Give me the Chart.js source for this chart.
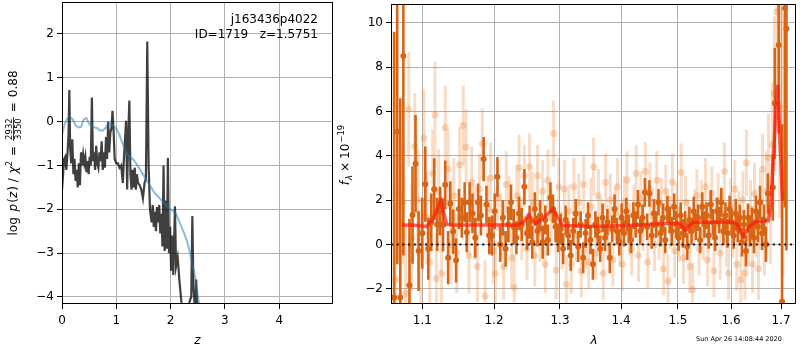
<!DOCTYPE html>
<html lang="en">
<head>
  <meta charset="UTF-8" />
  <title>j163436p4022 redshift fit</title>
  <script src="https://cdn.jsdelivr.net/npm/chart.js"></script>
  <style>
    body { margin: 0; background: #fff; }
    #wrap { position: relative; width: 800px; height: 350px; }
    canvas { position: absolute; top: 0; }
    #pz { left: 0; }
    #spec { left: 335px; }
  </style>
</head>
<body>
<div id="wrap">
  <canvas id="pz" width="340" height="350"></canvas>
  <canvas id="spec" width="465" height="350"></canvas>
</div>

<script>
  // ---- left panel: log p(z) and chi2 curve ----
  const zGrid = [
    0.00,0.02,0.04,0.06,0.08,0.10,0.12,0.135,0.15,0.17,
    0.19,0.21,0.23,0.25,0.27,0.29,0.31,0.33,0.35,0.37,
    0.39,0.41,0.43,0.45,0.47,0.49,0.51,0.53,0.55,0.57,
    0.59,0.61,0.63,0.65,0.67,0.69,0.71,0.73,0.75,0.77,
    0.79,0.81,0.83,0.85,0.87,0.89,0.91,0.93,0.95,0.97,
    1.00,1.03,1.06,1.09,1.12,1.14,1.16,1.18,1.20,1.22,
    1.24,1.26,1.28,1.30,1.32,1.34,1.36,1.38,1.40,1.43,
    1.46,1.49,1.52,1.545,1.57,1.595,1.62,1.65,1.67,1.69,
    1.71,1.73,1.75,1.77,1.79,1.81,1.83,1.85,1.87,1.89,
    1.91,1.93,1.95,1.97,1.99,2.01,2.03,2.05,2.08,2.10,
    2.13,2.16,2.19,2.22,2.30,2.35,2.38,2.40,2.42,2.45,
    2.47,2.50
  ];
  const logPz = [
    -1.57,-1.20,-0.85,-0.80,-1.10,-0.75,-0.30,0.72,-0.60,-0.95,
    -0.40,-1.20,-0.85,-1.35,-1.10,-1.50,-0.95,-1.45,-0.70,-1.00,
    -0.75,-0.95,-0.80,-1.15,-0.90,-1.20,-0.80,-1.00,0.55,-0.90,
    -0.70,-1.10,-0.55,-0.95,-1.05,-0.70,-0.90,-0.45,-1.10,-0.70,
    -1.05,-0.35,-0.85,0.00,-0.70,-0.25,-0.15,0.25,-0.20,-0.85,
    -0.95,-0.95,-1.05,-1.00,-1.40,-0.85,-0.40,0.02,-1.55,-0.30,
    0.48,-1.20,-1.55,-1.10,-1.50,-1.05,-1.55,-1.20,-1.40,-1.45,
    -1.55,-1.75,-1.40,-1.30,1.83,-1.00,-2.00,-2.30,-1.90,-2.40,
    -2.05,-2.50,-1.95,-2.30,-1.90,-2.55,-2.10,-2.85,-1.00,-2.95,
    -1.80,-2.90,-0.83,-3.00,-2.40,-3.40,-2.60,-3.50,-1.93,-3.30,
    -3.10,-3.60,-4.00,-4.40,-4.60,-4.10,-4.00,-2.15,-3.80,-4.30,
    -3.60,-4.50
  ];
  const zChi = [
    0.00,0.05,0.10,0.15,0.20,0.25,0.30,0.35,0.40,0.45,
    0.50,0.55,0.60,0.65,0.70,0.75,0.80,0.85,0.90,0.95,
    1.00,1.05,1.10,1.15,1.20,1.25,1.30,1.35,1.40,1.45,
    1.50,1.55,1.60,1.65,1.70,1.75,1.80,1.85,1.90,1.95,
    2.00,2.05,2.10,2.15,2.20,2.25,2.30,2.35,2.40,2.45,
    2.50,2.55
  ];
  const chiCurve = [
    -0.30,-0.05,0.08,0.10,0.05,-0.08,-0.13,-0.12,0.05,0.08,
    -0.05,-0.10,-0.13,-0.15,-0.20,-0.20,-0.15,-0.05,-0.05,-0.10,
    -0.16,-0.28,-0.45,-0.60,-0.75,-0.80,-0.85,-0.92,-1.02,-1.12,
    -1.22,-1.32,-1.42,-1.52,-1.62,-1.68,-1.75,-1.82,-1.88,-1.95,
    -2.00,-2.05,-2.10,-2.25,-2.40,-2.55,-2.72,-2.95,-3.25,-3.55,
    -3.95,-4.35
  ];
  const zTicks = [0, 1, 2, 3, 4];
  const pzTicks = [-4, -3, -2, -1, 0, 1, 2];

  // ---- right panel: spectrum ----
  const darkWave = [
    1.063,1.067,1.071,1.075,1.083,1.087,1.091,1.095,1.100,1.104,
    1.108,1.112,1.116,1.120,1.124,1.128,1.131,1.135,1.138,1.142,
    1.146,1.150,1.154,1.158,1.161,1.165,1.169,1.173,1.177,1.181,
    1.185,1.189,1.193,1.197,1.201,1.205,1.209,1.213,1.217,1.221,
    1.225,1.229,1.233,1.237,1.241,1.245,1.249,1.253,1.257,1.261,
    1.265,1.269,1.273,1.277,1.281,1.285,1.289,1.293,1.297,1.301,
    1.305,1.309,1.313,1.317,1.321,1.325,1.329,1.333,1.337,1.341,
    1.345,1.349,1.353,1.357,1.361,1.365,1.369,1.373,1.377,1.381,
    1.385,1.389,1.393,1.397,1.401,1.405,1.409,1.413,1.417,1.421,
    1.425,1.429,1.433,1.437,1.441,1.445,1.449,1.453,1.457,1.461,
    1.465,1.469,1.473,1.477,1.481,1.485,1.489,1.493,1.497,1.501,
    1.505,1.509,1.513,1.517,1.521,1.525,1.529,1.533,1.537,1.541,
    1.545,1.549,1.553,1.557,1.561,1.565,1.569,1.573,1.577,1.581,
    1.585,1.589,1.593,1.597,1.601,1.605,1.609,1.613,1.617,1.621,
    1.625,1.629,1.633,1.637,1.641,1.645,1.649,1.653,1.657,1.661,
    1.665,1.669,1.673,1.683,1.687,1.695,1.702,1.708,1.711
  ];
  const darkFlux = [
    -2.4,5.1,-2.4,8.5,-1.84,1.33,3.64,-0.3,0.5,2.72,
    -0.2,1.0,2.49,0.9,1.5,0.88,2.69,-0.6,1.85,0.58,
    -0.72,1.6,1.2,1.9,0.55,1.9,1.4,0.3,1.9,1.3,
    3.85,1.8,0.4,0.4,1.5,3.05,0.0,1.2,-0.2,0.9,
    1.9,0.8,0.3,1.4,0.9,2.6,0.5,1.0,0.1,1.6,
    0.6,1.3,0.1,1.1,0.2,2.1,1.6,0.8,0.3,0.7,
    -0.2,1.1,0.4,-0.5,0.6,1.4,-0.1,0.9,-0.6,0.5,
    1.3,0.2,-0.9,0.9,0.6,-0.2,1.2,0.3,1.0,-0.6,
    0.7,1.6,0.6,0.1,1.2,0.5,1.5,0.7,0.2,1.3,
    0.9,1.8,0.6,1.2,2.35,0.8,2.3,0.4,1.4,0.9,
    1.9,0.5,1.2,0.2,1.6,1.1,0.6,1.7,0.9,0.3,
    1.3,0.5,0.9,-0.1,1.1,0.6,1.5,0.8,1.2,0.2,
    1.7,0.9,1.3,0.4,1.8,1.0,0.3,1.5,1.1,1.9,
    0.6,1.3,0.5,1.6,1.0,0.4,1.4,0.7,1.2,0.1,
    0.9,-0.3,1.2,0.6,1.0,0.3,1.5,0.8,1.9,0.5,
    1.1,0.0,2.3,2.57,6.37,9.0,-2.58,10.66,9.73
  ];
  const darkErr = [
    12,6,9,9,3,2.2,2.2,1.8,1.6,1.7,
    1.4,1.3,1.4,1.2,1.1,1.2,1.1,1.2,1.0,1.0,
    1.0,0.9,0.9,0.9,0.9,0.9,0.9,0.9,0.85,0.9,
    1.0,0.85,0.85,0.9,0.8,0.9,0.8,0.8,0.8,0.8,
    0.8,0.8,0.75,0.75,0.75,0.8,0.75,0.75,0.75,0.75,
    0.7,0.7,0.75,0.65,0.7,0.7,0.65,0.7,0.65,0.7,
    0.7,0.65,0.65,0.7,0.6,0.65,0.7,0.6,0.7,0.65,
    0.6,0.65,0.7,0.6,0.65,0.6,0.65,0.6,0.6,0.7,
    0.6,0.65,0.6,0.6,0.65,0.6,0.6,0.65,0.6,0.6,
    0.6,0.65,0.6,0.6,0.65,0.6,0.6,0.6,0.65,0.6,
    0.6,0.6,0.65,0.6,0.6,0.6,0.65,0.6,0.6,0.6,
    0.6,0.65,0.6,0.6,0.6,0.6,0.65,0.6,0.6,0.6,
    0.65,0.6,0.6,0.6,0.65,0.6,0.6,0.6,0.6,0.65,
    0.6,0.6,0.65,0.6,0.6,0.6,0.65,0.6,0.6,0.65,
    0.65,0.7,0.65,0.7,0.65,0.7,0.7,0.7,0.75,0.75,
    0.7,0.8,0.9,1.5,2.5,4.0,8.0,9.0,10.0
  ];
  const lightWave = [
    1.065,1.069,1.074,1.078,1.082,1.086,1.090,1.094,1.098,1.102,
    1.106,1.110,1.114,1.117,1.119,1.122,1.126,1.131,1.135,1.139,
    1.143,1.147,1.151,1.156,1.160,1.164,1.168,1.172,1.176,1.179,
    1.183,1.187,1.191,1.195,1.199,1.202,1.205,1.210,1.214,1.218,
    1.222,1.226,1.230,1.234,1.237,1.241,1.245,1.249,1.253,1.257,
    1.261,1.265,1.269,1.273,1.277,1.281,1.286,1.290,1.294,1.298,
    1.303,1.307,1.310,1.314,1.318,1.322,1.326,1.330,1.334,1.338,
    1.342,1.346,1.350,1.354,1.358,1.362,1.366,1.370,1.374,1.378,
    1.382,1.386,1.390,1.394,1.398,1.402,1.406,1.410,1.414,1.418,
    1.422,1.426,1.430,1.434,1.438,1.442,1.446,1.450,1.454,1.458,
    1.462,1.466,1.470,1.474,1.478,1.482,1.486,1.490,1.494,1.498,
    1.502,1.506,1.510,1.514,1.518,1.522,1.527,1.531,1.535,1.539,
    1.543,1.547,1.551,1.555,1.559,1.563,1.567,1.571,1.575,1.579,
    1.583,1.587,1.591,1.595,1.599,1.603,1.607,1.611,1.615,1.619,
    1.623,1.627,1.630,1.634,1.638,1.642,1.646,1.650,1.654,1.658,
    1.662,1.666,1.670,1.674,1.678,1.682,1.686,1.691,1.697,1.704
  ];
  const lightFlux = [
    -1.6,2.3,1.9,-2.2,6.1,0.3,4.43,2.0,-0.6,4.8,
    1.2,-0.8,3.2,5.85,-1.54,2.4,-1.3,5.28,3.4,0.0,
    2.2,-0.4,3.6,5.37,4.4,-0.5,2.8,1.0,-1.0,2.5,
    4.54,-2.33,1.6,3.0,-0.3,-1.31,2.1,0.8,-1.0,2.7,
    1.6,-0.6,-1.94,2.2,3.46,0.7,3.1,-0.2,3.5,1.9,
    -0.5,3.1,0.5,2.4,-0.9,2.9,1.2,5.0,-1.17,2.6,
    0.2,2.5,-1.8,1.5,-0.9,2.6,0.4,1.9,-1.2,2.7,
    0.1,-0.8,1.7,3.5,-0.4,2.2,0.9,-1.3,2.8,0.6,
    2.0,-0.7,1.4,2.6,0.2,-0.9,1.9,2.9,0.7,-0.2,
    1.5,3.2,-0.5,2.1,0.9,3.3,-0.8,2.5,1.3,0.0,
    2.9,0.5,1.8,-1.1,2.4,-1.66,1.0,2.8,-0.3,1.6,
    0.4,3.25,-0.6,1.9,0.8,-1.0,-2.03,1.3,2.2,-0.2,
    1.7,0.5,2.6,-0.7,1.1,2.3,-1.2,0.9,2.0,-0.4,
    1.4,3.3,0.2,-1.3,1.8,0.6,2.5,-0.9,1.2,-1.6,
    2.0,-1.3,3.69,0.3,1.6,-0.9,2.3,0.7,-1.1,1.9,
    3.39,0.2,2.4,3.91,1.4,4.5,6.8,10.5,6.2,4.5
  ];
  const lightErr = [
    3.5,3.0,2.8,3.0,2.6,2.4,2.4,2.3,2.2,2.2,
    2.1,2.0,2.0,2.4,1.9,1.9,1.8,1.9,1.8,1.8,
    1.7,1.8,1.7,1.8,1.7,1.7,1.6,1.7,1.6,1.6,
    1.6,1.6,1.5,1.6,1.5,1.5,1.5,1.5,1.5,1.5,
    1.5,1.4,1.5,1.4,1.5,1.4,1.4,1.4,1.5,1.4,
    1.4,1.4,1.3,1.4,1.3,1.4,1.3,1.5,1.3,1.3,
    1.3,1.3,1.3,1.2,1.3,1.3,1.2,1.3,1.2,1.3,
    1.2,1.2,1.3,1.3,1.2,1.2,1.2,1.2,1.3,1.2,
    1.2,1.2,1.2,1.3,1.2,1.2,1.2,1.3,1.2,1.2,
    1.2,1.3,1.2,1.2,1.2,1.3,1.2,1.2,1.2,1.2,
    1.3,1.2,1.2,1.2,1.2,1.2,1.2,1.3,1.2,1.2,
    1.2,1.3,1.2,1.2,1.2,1.2,1.2,1.2,1.2,1.2,
    1.2,1.2,1.3,1.2,1.2,1.2,1.2,1.2,1.2,1.2,
    1.2,1.3,1.2,1.2,1.2,1.2,1.3,1.2,1.2,1.2,
    1.3,1.2,1.5,1.3,1.3,1.3,1.4,1.3,1.4,1.4,
    1.6,1.6,1.8,2.0,2.3,2.8,3.5,4.0,5.0,6.0
  ];
  const modelWave = [
    1.073,1.090,1.106,1.115,1.125,1.133,1.140,1.180,1.235,1.245,
    1.251,1.262,1.270,1.280,1.289,1.297,1.304,1.357,1.420,1.470,
    1.500,1.507,1.514,1.521,1.528,1.560,1.603,1.612,1.618,1.624,
    1.634,1.649,1.674,1.679,1.683,1.688,1.693,1.698,1.703
  ];
  const modelFlux = [
    0.88,0.86,0.81,1.2,1.97,0.9,0.88,0.87,0.88,1.05,
    1.33,0.95,1.1,1.35,1.6,1.2,0.85,0.81,0.86,0.93,
    0.97,0.85,0.63,0.85,1.0,1.0,1.0,0.9,0.55,0.36,
    0.78,1.03,1.07,1.8,3.46,5.5,7.2,4.5,1.97
  ];
  const waveTicks = [1.1, 1.2, 1.3, 1.4, 1.5, 1.6, 1.7];
  const fluxTicks = [-2, 0, 2, 4, 6, 8, 10];

  const FONT = 'DejaVu Sans';
  const minus = v => String(v).replace('-', '\u2212');

  function pts(xs, ys) { return xs.map((x, i) => ({ x: x, y: ys[i] })); }
  function errSegs(xs, ys, es) {
    const out = [];
    xs.forEach((x, i) => { out.push({ x: x, y: ys[i] - es[i] }, { x: x, y: ys[i] + es[i] }, { x: x, y: null }); });
    return out;
  }

  function axis(extra, ticks, fmt, isY, size) {
    return Object.assign({
      afterBuildTicks: s => { s.ticks = ticks.map(v => ({ value: v })); },
      afterFit: s => {
        if (isY) { s.width = size; s.paddingTop = 0; s.paddingBottom = 0; }
        else { s.height = size; s.paddingLeft = 0; s.paddingRight = 0; }
      },
      grid: { color: '#b0b0b0', lineWidth: 1, tickColor: '#000', tickLength: 5, tickWidth: 1 },
      border: { display: false },
      ticks: { color: '#000', font: { family: FONT, size: 12 }, padding: isY ? 3 : 5, maxRotation: 0, autoSkip: false, callback: fmt }
    }, extra);
  }

  // spines on all four sides, like matplotlib
  const frame = {
    id: 'frame',
    afterDraw(chart) {
      const a = chart.chartArea, c = chart.ctx;
      c.save(); c.strokeStyle = '#000'; c.lineWidth = 1;
      c.strokeRect(Math.round(a.left) + 0.5, Math.round(a.top) + 0.5, Math.round(a.right - a.left) - 1, Math.round(a.bottom - a.top) - 1);
      c.restore();
    }
  };

  // draws a run of text pieces, optionally rotated, centred on (x, y)
  function rich(c, parts, x, y, rot) {
    c.save();
    c.translate(x, y);
    if (rot) c.rotate(-Math.PI / 2);
    c.fillStyle = '#000'; c.textBaseline = 'alphabetic';
    let total = 0;
    parts.forEach(p => {
      c.font = p.font;
      p.w = p.frac ? Math.max(c.measureText(p.frac[0]).width, c.measureText(p.frac[1]).width) + 2 : c.measureText(p.t).width;
      total += p.w + (p.gap || 0);
    });
    let cx = -total / 2;
    parts.forEach(p => {
      c.font = p.font;
      if (p.frac) {
        c.textAlign = 'center';
        c.fillText(p.frac[0], cx + p.w / 2, -1);
        c.fillText(p.frac[1], cx + p.w / 2, 8);
        c.fillRect(cx, 0, p.w, 0.8);
        c.textAlign = 'left';
      } else {
        c.textAlign = 'left';
        c.fillText(p.t, cx, 4 + (p.dy || 0));
      }
      cx += p.w + (p.gap || 0);
    });
    c.restore();
  }

  const pzText = {
    id: 'pzText',
    afterDraw(chart) {
      const c = chart.ctx;
      const n = '12px ' + FONT, it = 'italic 12px ' + FONT, sm = '8.5px ' + FONT;
      rich(c, [
        { t: 'log ', font: n, gap: 2 }, { t: 'p', font: it, gap: 1 }, { t: '(', font: n }, { t: 'z', font: it, gap: 1 },
        { t: ') / ', font: n, gap: 1 }, { t: '\u03c7', font: it }, { t: '2', font: sm, dy: -5, gap: 5 },
        { t: '=', font: n, gap: 5 }, { frac: ['2932', '3350'], font: sm, gap: 5 }, { t: '=', font: n, gap: 5 }, { t: '0.88', font: n }
      ], 13, 153, true);
      rich(c, [{ t: 'z', font: it }], 197.5, 340, false);
      c.save();
      c.font = '12px ' + FONT; c.fillStyle = '#000'; c.textAlign = 'right'; c.textBaseline = 'middle';
      c.fillText('j163436p4022', 318, 20);
      c.fillText('ID=1719   z=1.5751', 318, 35);
      c.restore();
    }
  };

  const specText = {
    id: 'specText',
    afterDraw(chart) {
      const c = chart.ctx;
      const n = '12px ' + FONT, it = 'italic 12px ' + FONT, sm = '8.5px ' + FONT;
      rich(c, [
        { t: 'f', font: it, gap: 1 }, { t: '\u03bb', font: 'italic 8.5px ' + FONT, dy: 3, gap: 3 },
        { t: '\u00d7', font: n, gap: 3 }, { t: '10', font: n, gap: 1 }, { t: '\u221219', font: sm, dy: -5 }
      ], 10, 155, true);
      rich(c, [{ t: '\u03bb', font: it }], 259, 340, false);
      c.save();
      c.font = '6.5px ' + FONT; c.fillStyle = '#000'; c.textAlign = 'left'; c.textBaseline = 'middle';
      c.fillText('Sun Apr 26 14:08:44 2020', 361, 339);
      c.restore();
    }
  };

  const common = {
    responsive: false,
    animation: false,
    events: [],
    plugins: { legend: { display: false }, tooltip: { enabled: false } }
  };

  new Chart(document.getElementById('pz').getContext('2d'), {
    type: 'scatter',
    data: {
      datasets: [
        { data: pts(zChi, chiCurve), showLine: true, borderColor: 'rgba(31,119,180,0.5)', borderWidth: 2, pointRadius: 0, clip: 0, order: 1 },
        { data: pts(zGrid, logPz), showLine: true, borderColor: 'rgba(0,0,0,0.75)', borderWidth: 2.2, pointRadius: 0, clip: 0, order: 2 }
      ]
    },
    options: Object.assign({}, common, {
      layout: { padding: { top: 2, right: 7, left: 0, bottom: 0 } },
      scales: {
        x: axis({ type: 'linear', min: 0, max: 4.99 }, zTicks, v => minus(v), false, 46),
        y: axis({ type: 'linear', min: -4.16, max: 2.73 }, pzTicks, v => minus(v), true, 62)
      }
    }),
    plugins: [frame, pzText]
  });

  new Chart(document.getElementById('spec').getContext('2d'), {
    type: 'scatter',
    data: {
      datasets: [
        { data: [{ x: 1.059, y: 0 }, { x: 1.731, y: 0 }], showLine: true, borderColor: '#111', borderWidth: 2, borderDash: [2, 3.7], pointRadius: 0, clip: 0, order: 1 },
        { data: pts(modelWave, modelFlux), showLine: true, borderColor: 'rgba(255,25,10,0.7)', borderWidth: 3.5, pointRadius: 0, clip: 0, order: 2 },
        { data: pts(darkWave, darkFlux), backgroundColor: 'rgb(217,100,20)', borderWidth: 0, pointRadius: 3, clip: 0, order: 3 },
        { data: errSegs(darkWave, darkFlux, darkErr), showLine: true, spanGaps: false, borderColor: 'rgb(217,100,20)', borderWidth: 2.6, borderCapStyle: 'butt', pointRadius: 0, clip: 0, order: 4 },
        { data: pts(lightWave, lightFlux), backgroundColor: 'rgba(232,130,50,0.3)', borderWidth: 0, pointRadius: 3.5, clip: 0, order: 5 },
        { data: errSegs(lightWave, lightFlux, lightErr), showLine: true, spanGaps: false, borderColor: 'rgba(232,130,50,0.28)', borderWidth: 3, borderCapStyle: 'butt', pointRadius: 0, clip: 0, order: 6 }
      ]
    },
    options: Object.assign({}, common, {
      layout: { padding: { top: 2, right: 1, left: 0, bottom: 0 } },
      scales: {
        x: axis({ type: 'logarithmic', min: 1.059, max: 1.731 }, waveTicks, v => Number(v).toFixed(1), false, 46),
        y: axis({ type: 'linear', min: -2.69, max: 10.85 }, fluxTicks, v => minus(v), true, 56)
      }
    }),
    plugins: [frame, specText]
  });
</script>
</body>
</html>
